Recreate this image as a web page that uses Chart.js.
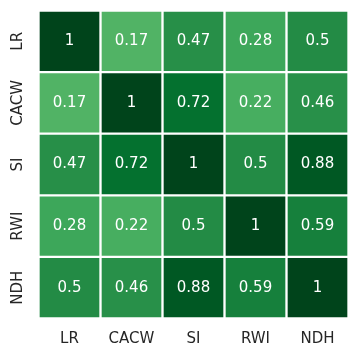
<!DOCTYPE html>
<html><head><meta charset="utf-8">
<script src="https://cdn.jsdelivr.net/npm/chart.js@4"></script>
<style>html,body{margin:0;padding:0;background:#fff;} #wrap{width:358px;height:356px;position:relative;}</style>
</head><body><div id="wrap"><canvas id="c"></canvas></div>
<script>
const labels = ['LR', 'CACW', 'SI', 'RWI', 'NDH'];
const rowLR   = [1, 0.17, 0.47, 0.28, 0.5];
const rowCACW = [0.17, 1, 0.72, 0.22, 0.46];
const rowSI   = [0.47, 0.72, 1, 0.5, 0.88];
const rowRWI  = [0.28, 0.22, 0.5, 1, 0.59];
const rowNDH  = [0.5, 0.46, 0.88, 0.59, 1];
const rows = [rowLR, rowCACW, rowSI, rowRWI, rowNDH];

// matplotlib "Greens" colormap, normalized on [-1, 1]
const greens = ['#f7fcf5','#e5f5e0','#c7e9c0','#a1d99b','#74c476','#41ab5d','#238b45','#006d2c','#00441b'];
function hex2rgb(h){return [parseInt(h.slice(1,3),16),parseInt(h.slice(3,5),16),parseInt(h.slice(5,7),16)];}
function cmap(v){
  let t = (v + 1) / 2; t = Math.max(0, Math.min(1, t));
  const pos = t * (greens.length - 1);
  const i = Math.min(greens.length - 2, Math.floor(pos));
  const f = pos - i;
  const a = hex2rgb(greens[i]), b = hex2rgb(greens[i+1]);
  const c = a.map((x,k)=>Math.round(x + (b[k]-x)*f));
  return 'rgb(' + c.join(',') + ')';
}

const font = {family: 'DejaVu Sans', size: 15};
const annot = {
  id: 'annot',
  afterDatasetsDraw(chart){
    const ctx = chart.ctx;
    ctx.save();
    ctx.fillStyle = '#ffffff';
    ctx.font = '15px "DejaVu Sans"';
    ctx.textAlign = 'center';
    ctx.textBaseline = 'middle';
    chart.data.datasets.forEach((ds, i) => {
      chart.getDatasetMeta(i).data.forEach((el, j) => {
        const p = el.getCenterPoint();
        ctx.fillText(String(ds.values[j]), p.x, p.y);
      });
    });
    ctx.restore();
  }
};

new Chart(document.getElementById('c'), {
  type: 'bar',
  data: {
    labels: labels,
    datasets: rows.map((r, i) => ({
      label: labels[i],
      data: r.map(() => 1),
      values: r,
      backgroundColor: r.map(cmap),
      borderColor: '#ffffff',
      borderWidth: 1.5,
      borderSkipped: false,
      barPercentage: 1,
      categoryPercentage: 1
    }))
  },
  options: {
    responsive: true,
    maintainAspectRatio: false,
    animation: false,
    layout: {padding: {top: 10.5, right: 9.5, left: 0, bottom: 0}},
    plugins: {legend: {display: false}, tooltip: {enabled: false}},
    scales: {
      x: {
        type: 'category', stacked: true,
        grid: {display: false, drawTicks: false}, border: {display: false},
        ticks: {color: '#262626', font: font, padding: 12, maxRotation: 0, minRotation: 0},
        afterFit: s => { s.height = 356 - 318.5; }
      },
      y: {
        type: 'linear', stacked: true, min: 0, max: 5, reverse: true,
        grid: {display: false, drawTicks: false}, border: {display: false},
        afterBuildTicks: s => { s.ticks = labels.map((_, i) => ({value: i + 0.5})); },
        ticks: {color: '#262626', font: font, padding: -2.5, minRotation: 90, maxRotation: 90, crossAlign: 'center',
          callback: (v, idx) => labels[idx]},
        afterFit: s => { s.width = 38.5; }
      }
    }
  },
  plugins: [annot]
});
</script>
</body></html>
